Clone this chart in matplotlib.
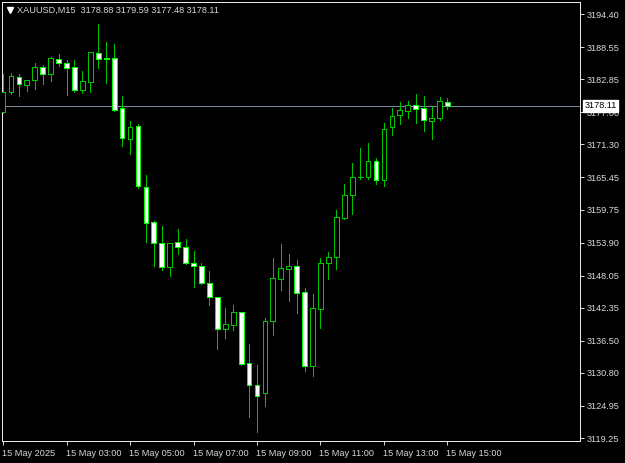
import matplotlib
matplotlib.use("Agg")
import matplotlib.pyplot as plt
from matplotlib.patches import Rectangle
from matplotlib.lines import Line2D
import matplotlib.transforms as mtransforms

# ── XAUUSD M15, 15 May 2025, bars from 01:00 to 15:00 ────────────────────────
opens = [3177.03, 3180.64, 3183.29, 3181.82, 3182.70, 3184.95, 3183.77, 3186.43,
         3185.77, 3184.95, 3180.93, 3182.40, 3187.54, 3186.60, 3186.55, 3177.69,
         3172.33, 3174.55, 3163.68, 3157.53, 3153.76, 3149.51, 3153.94, 3153.05,
         3150.32, 3149.74, 3146.78, 3144.30, 3138.52, 3139.28, 3141.53, 3132.49,
         3128.64, 3127.17, 3140.04, 3147.48, 3149.26, 3149.74, 3145.07, 3132.07,
         3142.12, 3150.21, 3151.38, 3158.19, 3162.32, 3165.56, 3165.46, 3168.40,
         3164.98, 3174.32, 3176.45, 3177.26, 3178.22, 3177.74, 3175.38, 3175.91,
         3178.88]
highs = [3183.77, 3183.89, 3183.71, 3182.79, 3185.80, 3185.36, 3186.78, 3187.26,
         3186.25, 3186.25, 3184.30, 3187.72, 3192.63, 3189.38, 3189.17, 3179.87,
         3175.44, 3174.90, 3165.81, 3157.71, 3156.83, 3153.81, 3156.30, 3154.52,
         3152.40, 3150.32, 3148.90, 3144.33, 3142.24, 3142.82, 3141.58, 3135.91,
         3132.19, 3140.47, 3151.21, 3153.63, 3151.86, 3150.80, 3145.78, 3144.72,
         3151.21, 3152.27, 3159.66, 3164.22, 3167.94, 3170.70, 3171.59, 3168.82,
         3175.13, 3177.74, 3178.80, 3178.98, 3180.22, 3179.87, 3178.09, 3179.64,
         3179.59]
lows = [3176.85, 3180.17, 3179.92, 3180.75, 3181.11, 3181.94, 3182.53, 3185.24,
        3180.05, 3180.64, 3180.40, 3180.58, 3184.78, 3182.12, 3177.15, 3171.06,
        3169.53, 3163.51, 3154.04, 3149.79, 3149.03, 3148.02, 3151.86, 3150.18,
        3145.96, 3146.63, 3142.82, 3135.03, 3137.03, 3138.39, 3132.19, 3122.92,
        3120.37, 3124.92, 3137.51, 3145.48, 3143.59, 3141.35, 3131.13, 3130.29,
        3138.80, 3147.38, 3149.15, 3158.01, 3158.95, 3165.10, 3165.16, 3164.22,
        3163.92, 3172.95, 3174.96, 3175.91, 3175.03, 3173.72, 3172.30, 3175.56,
        3177.48]
closes = [3180.58, 3183.36, 3181.99, 3182.65, 3184.95, 3183.77, 3186.69, 3185.72,
          3184.88, 3180.93, 3182.47, 3187.58, 3186.37, 3186.50, 3177.39, 3172.37,
          3174.46, 3163.92, 3157.41, 3153.76, 3149.51, 3153.76, 3153.05, 3150.21,
          3149.74, 3146.67, 3144.19, 3138.52, 3139.40, 3141.53, 3132.37, 3128.59,
          3126.69, 3139.99, 3147.66, 3149.43, 3149.74, 3144.90, 3132.07, 3142.24,
          3150.21, 3151.38, 3158.37, 3162.27, 3165.56, 3165.60, 3168.35, 3164.98,
          3174.02, 3176.32, 3177.33, 3178.27, 3177.51, 3175.56, 3175.91, 3178.93,
          3178.11]

price_ticks = [3194.40, 3188.55, 3182.85, 3177.00, 3171.30, 3165.45, 3159.75,
               3153.90, 3148.05, 3142.35, 3136.50, 3130.80, 3124.95, 3119.25]
time_tick_bars = [0, 8, 16, 24, 32, 40, 48, 56]
time_labels = ["15 May 2025", "15 May 03:00", "15 May 05:00", "15 May 07:00",
               "15 May 09:00", "15 May 11:00", "15 May 13:00", "15 May 15:00"]
last_price = 3178.11
header = "XAUUSD,M15  3178.88 3179.59 3177.48 3178.11"

# ── colours ──────────────────────────────────────────────────────────────────
BG = "#000000"
LINE = "#00C400"      # wicks / bull outlines
BEAR_EDGE = "#00FF00"
FG = "#D8D8D8"
FONT = "Liberation Sans"
PX = 0.72             # one pixel in points at dpi 100

fig = plt.figure(figsize=(6.25, 4.63), dpi=100)
fig.patch.set_facecolor(BG)
ax = fig.add_axes([2 / 625, 22 / 463, 578 / 625, 439 / 463])
ax.set_facecolor(BG)

body_w = 0.6
for i, (o, h, l, c) in enumerate(zip(opens, highs, lows, closes)):
    ax.add_line(Line2D([i, i], [l, h], color=LINE, lw=PX, antialiased=False, zorder=2))
    bottom, top = min(o, c), max(o, c)
    if c < o:
        face, edge = "white", BEAR_EDGE
    else:
        face, edge = BG, LINE
    ax.add_patch(Rectangle((i - body_w / 2, bottom), body_w, max(top - bottom, 0.02),
                           facecolor=face, edgecolor=edge, lw=PX,
                           antialiased=False, zorder=3))

# current bid line
ax.axhline(last_price, color="#778899", lw=PX, zorder=1)

ax.set_xlim(-0.13, 72.7)
ax.set_ylim(3118.72, 3196.53)

ax.yaxis.tick_right()
ax.set_yticks(price_ticks)
ax.set_yticklabels([f"{p:.2f}" for p in price_ticks])
ax.set_xticks(time_tick_bars)
ax.set_xticklabels(time_labels, ha="left")
ax.tick_params(axis="both", colors=FG, length=3, width=PX, direction="out",
               labelsize=6.6, pad=1.5)
ax.tick_params(axis="x", pad=3)
for lbl in ax.get_xticklabels() + ax.get_yticklabels():
    lbl.set_fontfamily(FONT)
    lbl.set_color(FG)
for lbl in ax.get_xticklabels():
    lbl.set_transform(lbl.get_transform() + mtransforms.ScaledTranslation(-1 / 100, 0, fig.dpi_scale_trans))
for sp in ax.spines.values():
    sp.set_color("#E8E8E8")
    sp.set_linewidth(PX)

# price tag on the axis (covers the 3177.00 label, as in the terminal)
trans = mtransforms.blended_transform_factory(ax.transAxes, ax.transData)
ax.text(1.008, last_price, f"{last_price:.2f}", transform=trans, ha="left", va="center",
        fontsize=6.6, family=FONT, color="black", zorder=10, clip_on=False,
        bbox=dict(boxstyle="square,pad=0.15", facecolor="white", edgecolor="white"))

# header
fig.add_artist(Line2D([10 / 625], [1 - 10 / 463], marker="v", markersize=4.5,
                      color="white", transform=fig.transFigure))
fig.text(17 / 625, 1 - 10 / 463, header, fontsize=6.6, family=FONT, color=FG,
         ha="left", va="center")

fig.savefig("out.png", dpi=100, facecolor=BG)
